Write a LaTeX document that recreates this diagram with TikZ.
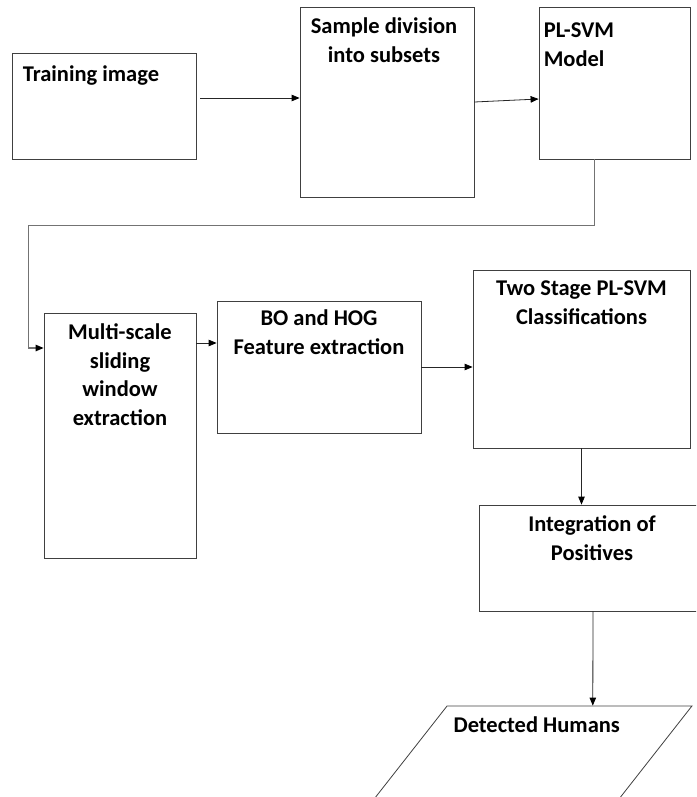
\documentclass[tikz,border=0pt]{standalone}
\usepackage{fontspec}
\setmainfont{Carlito}
\usetikzlibrary{calc, positioning, arrows.meta, shapes.geometric}

\begin{document}
\begin{tikzpicture}[
        x=1pt, y=1pt,
        font=\fontsize{22.5}{28.5}\selectfont\bfseries,
        box/.style={
            draw=black!75,
            line width=0.8pt,
            rectangle,
            inner sep=0pt
        },
        lbl/.style={
            align=center,
            inner sep=0pt
        },
        arrow/.style={-{Triangle[length=8pt,width=6.5pt,color=black]}, line width=0.8pt, black!85}
    ]

    \useasboundingbox (0,0) rectangle (696,-797);
    \clip (0,0) rectangle (696,-797);

    % Top row
    \node[box, minimum width=184pt, minimum height=106pt] (train) at (104,-106) {};
    \node[box, minimum width=174pt, minimum height=190pt] (sample) at (387,-102) {};
    \node[box, minimum width=151pt, minimum height=152pt] (plsvm) at (614.5,-83) {};

    % Middle row
    \node[box, minimum width=152pt, minimum height=245pt] (multi) at (120,-435.5) {};
    \node[box, minimum width=204pt, minimum height=132pt] (bohog) at (319,-367) {};
    \node[box, minimum width=217pt, minimum height=178pt] (twostage) at (581.5,-359) {};

    % Output side
    \node[box, minimum width=226pt, minimum height=106pt] (integ) at (592,-558) {};
    \node[box, trapezium, inner sep=2pt, trapezium stretches=true,
          trapezium left angle=54.5, trapezium right angle=125.5,
          minimum width=346.9pt, minimum height=130pt] (out) at (518.5,-771) {};

    % Texts
    \node[lbl, align=left, anchor=north west, below right=13pt and 11pt of train.north west] (traintxt) {Training image};
    \node[lbl, below=11pt of sample.north, xshift=-3pt] (sampletxt) {Sample division\\into subsets};
    \node[lbl, align=left, anchor=north west, below right=16pt and 5pt of plsvm.north west] (plsvmtxt) {PL-SVM\\Model};
    \node[lbl, below=11pt of multi.north] (multitxt) {Multi-scale\\sliding\\window\\extraction};
    \node[lbl, below=9pt of bohog.north] (bohogtxt) {BO and HOG\\Feature extraction};
    \node[lbl, below=11pt of twostage.north] (twostagetxt) {Two Stage PL-SVM\\Classifications};
    \node[lbl, below=11pt of integ.north] (integtxt) {Integration of\\Positives};
    \node[lbl, below=11pt of out.top side, xshift=-33pt] (outtxt) {Detected Humans};

    % Arrows
    \draw[arrow] ([xshift=4pt,yshift=8pt]train.east) -- ([yshift=8pt]train.east -| sample.west);
    \draw[arrow] (sample.east) -- ([yshift=-16pt]plsvm.west);

    \draw[arrow, draw=black!55, line width=1.2pt] ([xshift=-20pt]plsvm.south) -- ++(0,-66) -- ++(-566,0) |- ([yshift=87.5pt]multi.west);

    \draw[arrow] ([yshift=24pt]bohog.west -| multi.east) -- ([yshift=24pt]bohog.west);
    \draw[arrow] (bohog.east) -- (bohog.east -| twostage.west);

    \draw[arrow] (twostage.south) -- (twostage.south |- integ.north);
    \draw[arrow] ([xshift=1pt]integ.south) -- ([xshift=23pt]out.top side);

    \end{tikzpicture}
\end{document}
